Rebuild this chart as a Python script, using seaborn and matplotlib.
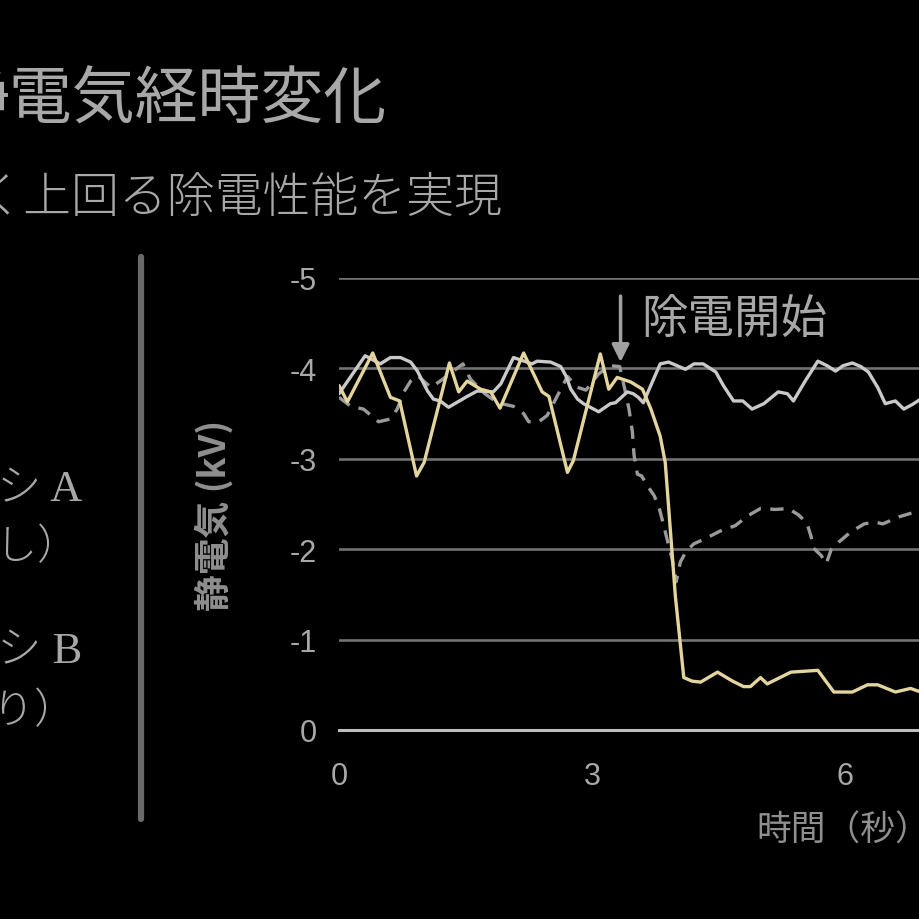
import matplotlib
matplotlib.use("Agg")
import matplotlib.pyplot as plt
import seaborn as sns

# solid gray line - brush A (no removal)
t_a = [0.0, 0.31, 0.49, 0.61, 0.73, 0.85, 0.93, 1.05, 1.12, 1.20, 1.30, 1.41, 1.52,
       1.64, 1.83, 1.92, 2.07, 2.29, 2.35, 2.51, 2.63, 2.69, 2.75, 2.83, 2.90, 2.98,
       3.08, 3.22, 3.28, 3.42, 3.49, 3.55, 3.61, 3.81, 3.91, 4.11, 4.21, 4.32, 4.47,
       4.56, 4.68, 4.79, 4.90, 5.04, 5.21, 5.32, 5.39, 5.53, 5.68, 5.79, 5.89, 5.98,
       6.09, 6.19, 6.28, 6.39, 6.48, 6.60, 6.70, 6.80, 6.90, 7.00]
v_a = [-3.72, -4.14, -4.05, -4.12, -4.12, -4.07, -3.97, -3.75, -3.66, -3.64, -3.57,
       -3.63, -3.69, -3.75, -3.74, -3.83, -4.12, -4.05, -4.08, -4.07, -4.02, -3.92,
       -3.77, -3.66, -3.61, -3.57, -3.52, -3.61, -3.62, -3.74, -3.72, -3.68, -3.62,
       -4.05, -4.07, -3.99, -4.05, -4.05, -3.96, -3.81, -3.64, -3.64, -3.55, -3.61,
       -3.74, -3.72, -3.64, -3.86, -4.08, -4.03, -3.97, -4.03, -4.06, -4.02, -3.96,
       -3.79, -3.61, -3.64, -3.55, -3.60, -3.66, -3.70]

# dashed gray line - brush B
t_b = [0.0, 0.14, 0.29, 0.47, 0.61, 0.69, 0.77, 0.85, 0.93, 1.09, 1.20, 1.47, 1.56,
       1.73, 1.88, 2.07, 2.19, 2.25, 2.37, 2.47, 2.57, 2.71, 2.83, 2.93, 3.08, 3.22,
       3.33, 3.39, 3.44, 3.48, 3.50, 3.54, 3.59, 3.66, 3.74, 3.80, 3.85, 3.90, 3.95,
       4.00, 4.05, 4.12, 4.21, 4.33, 4.52, 4.70, 4.85, 5.00, 5.18, 5.33, 5.45, 5.55,
       5.60, 5.63, 5.72, 5.78, 5.84, 5.93, 6.07, 6.23, 6.36, 6.45, 6.65, 6.90, 7.00]
v_b = [-3.68, -3.58, -3.55, -3.41, -3.44, -3.55, -3.74, -3.86, -3.92, -3.79, -3.86,
       -4.05, -3.88, -3.72, -3.62, -3.58, -3.50, -3.41, -3.41, -3.48, -3.66, -3.91,
       -3.79, -3.76, -3.94, -4.03, -4.02, -3.77, -3.55, -3.30, -3.04, -2.83, -2.81,
       -2.70, -2.59, -2.45, -2.27, -2.08, -1.90, -1.64, -1.86, -1.98, -2.06, -2.11,
       -2.20, -2.26, -2.37, -2.45, -2.44, -2.45, -2.38, -2.29, -2.14, -2.01, -1.93,
       -1.84, -2.00, -2.08, -2.19, -2.28, -2.30, -2.28, -2.36, -2.43, -2.45]

# gold line - new brush
t_c = [0.0, 0.10, 0.40, 0.61, 0.72, 0.92, 1.01, 1.31, 1.42, 1.52, 1.68, 1.80, 1.91,
       2.19, 2.41, 2.49, 2.71, 2.78, 3.10, 3.20, 3.30, 3.46, 3.60, 3.70, 3.81, 3.87,
       3.93, 3.99, 4.09, 4.19, 4.29, 4.49, 4.67, 4.80, 4.88, 5.00, 5.08, 5.36, 5.68,
       5.87, 6.09, 6.27, 6.39, 6.60, 6.78, 6.90, 7.00]
v_c = [-3.81, -3.63, -4.17, -3.68, -3.64, -2.81, -2.96, -4.06, -3.74, -3.86, -3.77,
       -3.74, -3.56, -4.17, -3.74, -3.69, -2.85, -2.98, -4.16, -3.77, -3.90, -3.85,
       -3.77, -3.55, -3.25, -2.96, -2.22, -1.48, -0.58, -0.54, -0.53, -0.64, -0.54,
       -0.48, -0.48, -0.58, -0.51, -0.64, -0.66, -0.42, -0.42, -0.50, -0.50, -0.42,
       -0.46, -0.42, -0.45]

y_ticks = [0, -1, -2, -3, -4, -5]
y_labels = ["0", "-1", "-2", "-3", "-4", "-5"]
x_ticks = [0, 3, 6, 9]
x_labels = ["0", "3", "6", "9"]

start_t = 3.34  # 除電開始

sns.set_style("dark", {"axes.facecolor": "black", "figure.facecolor": "black"})
plt.rcParams["font.family"] = ["Noto Sans CJK JP", "DejaVu Sans"]

txt = "#a8a8a8"
fig = plt.figure(figsize=(9.2, 9.2), dpi=100, facecolor="black")
ax = fig.add_axes([339 / 920, 189 / 920, 9 * 84.3 / 920, 452 / 920])
ax.set_facecolor("black")

sns.lineplot(x=t_b, y=v_b, ax=ax, color="#9a9a9a", lw=2.4, linestyle="--")
ax.lines[-1].set_dashes((4, 2.8))
sns.lineplot(x=t_a, y=v_a, ax=ax, color="#c9c9c9", lw=2.4)
sns.lineplot(x=t_c, y=v_c, ax=ax, color="#e4d49e", lw=2.4)

ax.set_xlim(0, 9)
ax.set_ylim(0, -5)
ax.set_yticks(y_ticks)
ax.set_yticklabels(y_labels)
ax.set_xticks(x_ticks)
ax.set_xticklabels(x_labels)
ax.yaxis.grid(True, color="#727272", lw=1.9)
ax.xaxis.grid(False)
ax.set_axisbelow(True)
for s in ["top", "right", "left"]:
    ax.spines[s].set_visible(False)
ax.spines["bottom"].set_color("#bdbdbd")
ax.spines["bottom"].set_linewidth(2.2)
ax.spines["bottom"].set_zorder(3)
ax.tick_params(axis="y", length=0, pad=16, labelsize=22, labelcolor=txt)
ax.tick_params(axis="x", length=13, width=2.2, color="#bdbdbd", direction="out",
               pad=9, labelsize=22, labelcolor=txt)
for lab in ax.get_xticklabels() + ax.get_yticklabels():
    lab.set_fontfamily("Liberation Sans")
ax.set_xlabel("")
ax.set_ylabel("")

# arrow marking the start of static removal
ax.annotate("", xy=(start_t, -4.07), xytext=(start_t, -4.8),
            arrowprops=dict(arrowstyle="-|>", color="#a0a0a0", lw=2.5,
                            mutation_scale=26, shrinkA=0, shrinkB=0))
ax.text(3.58, -4.55, "除電開始", fontsize=33.5, color=txt, ha="left", va="center")

# axis titles
fig.text(214 / 920, 1 - 515 / 920, "静電気 (kV)", rotation=90, fontsize=26.5,
         fontweight="bold", color="#8f8f8f", ha="center", va="center")
fig.text(756 / 920, 1 - 831 / 920, "時間（秒）", fontsize=25, color="#8f8f8f",
         ha="left", va="center")

# title and subtitle (left side cropped)
fig.text(387 / 920, 1 - 101 / 920, "静電気経時変化", fontsize=45.3, color=txt,
         ha="right", va="center")
fig.text(503 / 920, 1 - 198 / 920, "従来品を大きく上回る除電性能を実現", fontsize=34.5,
         color=txt, ha="right", va="center", fontweight="light")

# legend text + separator
serif = ["Liberation Serif", "Noto Sans CJK JP"]
fig.text(82 / 920, 1 - 490 / 920, "ブラシ A", fontsize=32, color=txt,
         ha="right", va="center", family=serif, fontweight="light")
fig.text(79 / 920, 1 - 548 / 920, "（除電なし）", fontsize=30, color=txt,
         ha="right", va="center", family=serif, fontweight="light")
fig.text(82 / 920, 1 - 652 / 920, "ブラシ B", fontsize=32, color=txt,
         ha="right", va="center", family=serif, fontweight="light")
fig.text(76 / 920, 1 - 712 / 920, "（除電あり）", fontsize=30, color=txt,
         ha="right", va="center", family=serif, fontweight="light")
fig.add_artist(plt.Line2D([141 / 920, 141 / 920], [1 - 258 / 920, 1 - 820 / 920],
                          color="#6a6a6a", lw=4.5, solid_capstyle="round"))

fig.savefig("out.png", dpi=100, facecolor="black")
